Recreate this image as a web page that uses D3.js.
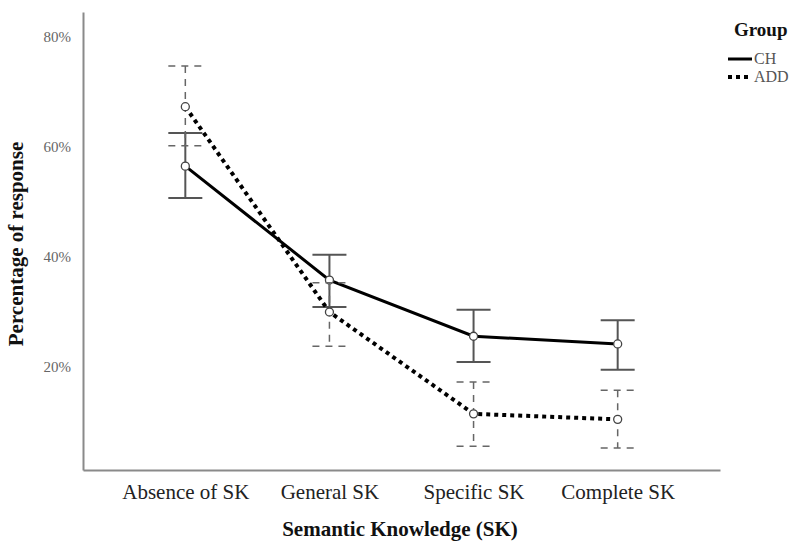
<!DOCTYPE html>
<html>
<head>
<meta charset="utf-8">
<script src="https://cdn.jsdelivr.net/npm/d3@7"></script>
<style>
  body { margin: 0; background: #fff; }
  svg { display: block; }
</style>
</head>
<body>
<div id="chart"></div>
<script>
const categories = ['Absence of SK', 'General SK', 'Specific SK', 'Complete SK'];
const groups = ['CH', 'ADD'];
const chMean = [56.5, 35.8, 25.6, 24.2];
const chUpper = [62.5, 40.4, 30.4, 28.5];
const chLower = [50.7, 30.9, 20.9, 19.5];
const addMean = [67.3, 30.0, 11.5, 10.5];
const addUpper = [74.7, 35.3, 17.3, 15.8];
const addLower = [60.2, 23.8, 5.6, 5.3];
const yTicks = [20, 40, 60, 80];

const W = 796, H = 541;
const plot = { left: 83, right: 720, top: 12, bottom: 470 };
const serif = '"Liberation Serif", "Times New Roman", serif';

const svg = d3.select('#chart').append('svg')
  .attr('width', W).attr('height', H);

const x = d3.scalePoint().domain(categories).range([plot.left, plot.right]).padding(0.71);
const y = d3.scaleLinear().domain([1.3, 84.5]).range([plot.bottom, plot.top]);

// axes
svg.append('g')
  .attr('transform', `translate(0,${plot.bottom})`)
  .call(d3.axisBottom(x).tickSize(0).tickPadding(14))
  .call(g => g.select('.domain').attr('stroke', '#8a8a8a').attr('stroke-width', 2))
  .selectAll('text')
  .style('font-family', serif)
  .style('font-size', '21px')
  .style('fill', '#222');

svg.append('g')
  .attr('transform', `translate(${plot.left},0)`)
  .call(d3.axisLeft(y).tickValues(yTicks).tickSize(0).tickPadding(12).tickFormat(d => d + '%'))
  .call(g => g.select('.domain').attr('stroke', '#8a8a8a').attr('stroke-width', 2))
  .selectAll('text')
  .style('font-family', serif)
  .style('font-size', '15px')
  .style('fill', '#666');

// axis titles
svg.append('text')
  .attr('x', 400).attr('y', 536)
  .attr('text-anchor', 'middle')
  .style('font-family', serif)
  .style('font-weight', 'bold').style('font-size', '21px').style('fill', '#111')
  .text('Semantic Knowledge (SK)');

svg.append('text')
  .attr('transform', 'translate(23,244) rotate(-90)')
  .attr('text-anchor', 'middle')
  .style('font-family', serif)
  .style('font-weight', 'bold').style('font-size', '21px').style('fill', '#111')
  .text('Percentage of response');

const series = [
  { name: 'CH', mean: chMean, upper: chUpper, lower: chLower,
    lineDash: null, lineWidth: 3, barDash: null, barWidth: 2, barColor: '#555' },
  { name: 'ADD', mean: addMean, upper: addUpper, lower: addLower,
    lineDash: '4,4', lineWidth: 4, barDash: '7,6', barWidth: 1.5, barColor: '#666' }
];

const line = d3.line().x((d, i) => x(categories[i])).y(d => y(d));
const cap = 17;

series.forEach(s => {
  const g = svg.append('g');
  // error bars
  categories.forEach((c, i) => {
    const cx = x(c);
    const eb = g.append('g')
      .attr('stroke', s.barColor)
      .attr('stroke-width', s.barWidth)
      .attr('stroke-dasharray', s.barDash);
    eb.append('line').attr('x1', cx).attr('x2', cx).attr('y1', y(s.upper[i])).attr('y2', y(s.lower[i]));
    eb.append('line').attr('x1', cx - cap).attr('x2', cx + cap).attr('y1', y(s.upper[i])).attr('y2', y(s.upper[i]));
    eb.append('line').attr('x1', cx - cap).attr('x2', cx + cap).attr('y1', y(s.lower[i])).attr('y2', y(s.lower[i]));
  });
  // line
  g.append('path')
    .datum(s.mean)
    .attr('d', line)
    .attr('fill', 'none')
    .attr('stroke', '#000')
    .attr('stroke-width', s.lineWidth)
    .attr('stroke-dasharray', s.lineDash);
  // points
  g.selectAll('circle')
    .data(s.mean)
    .enter()
    .append('circle')
    .attr('cx', (d, i) => x(categories[i]))
    .attr('cy', d => y(d))
    .attr('r', 4)
    .attr('fill', '#fff')
    .attr('stroke', '#444')
    .attr('stroke-width', 1.3);
});

// legend
const legend = svg.append('g').attr('transform', 'translate(728,0)');
legend.append('text')
  .attr('x', 6).attr('y', 36)
  .style('font-family', serif)
  .style('font-weight', 'bold').style('font-size', '19px').style('fill', '#111')
  .text('Group');
groups.forEach((name, i) => {
  const s = series[i];
  const yy = 59 + i * 18;
  legend.append('line')
    .attr('x1', 0).attr('x2', 24).attr('y1', yy).attr('y2', yy)
    .attr('stroke', '#000').attr('stroke-width', s.lineWidth)
    .attr('stroke-dasharray', s.lineDash);
  legend.append('text')
    .attr('x', 26).attr('y', yy + 5)
    .style('font-family', serif)
    .style('font-size', '16px').style('fill', '#555')
    .text(name);
});
</script>
</body>
</html>
